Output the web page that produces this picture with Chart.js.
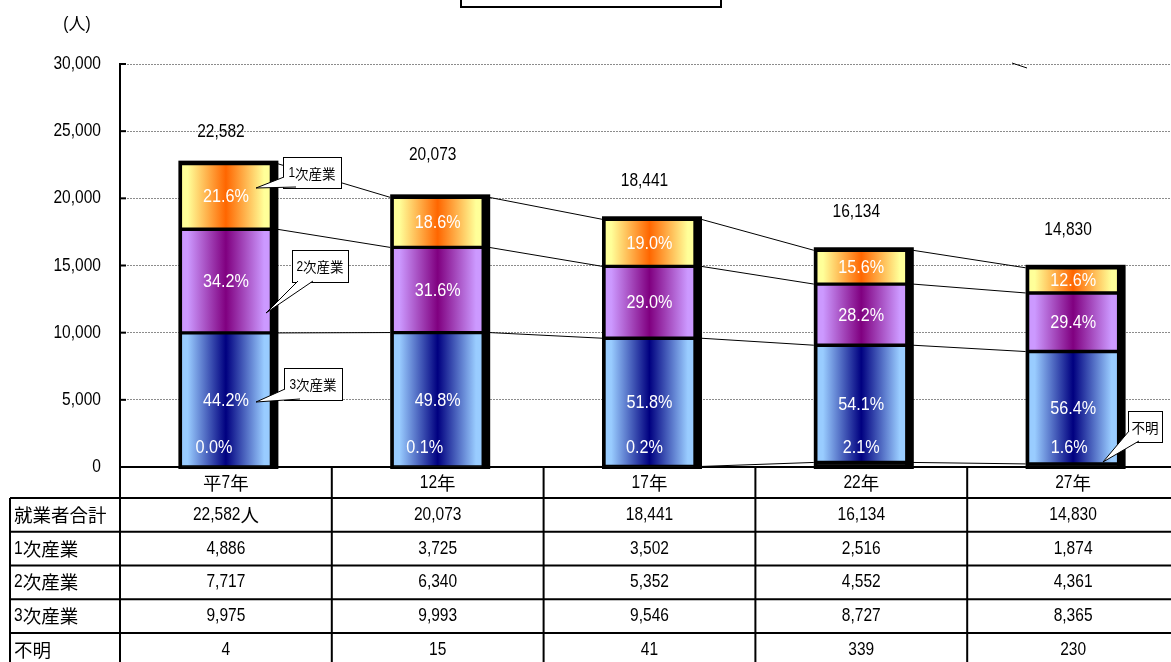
<!DOCTYPE html>
<html><head><meta charset="utf-8">
<script src="https://cdn.jsdelivr.net/npm/chart.js@4/dist/chart.umd.min.js"></script>
<style>html,body{margin:0;padding:0;overflow:hidden;background:#fff}#wrap{width:1180px;height:662px}</style>
</head><body><div id="wrap"><canvas id="c" width="1180" height="662"></canvas></div>
<script>
// ---- data ----
const categories = ['平7年','12年','17年','22年','27年'];
const primary   = [4886, 3725, 3502, 2516, 1874];   // 1次産業
const secondary = [7717, 6340, 5352, 4552, 4361];   // 2次産業
const tertiary  = [9975, 9993, 9546, 8727, 8365];   // 3次産業
const unknown   = [4, 15, 41, 339, 230];            // 不明
const totals    = [22582, 20073, 18441, 16134, 14830];
const pctPrimary   = ['21.6%','18.6%','19.0%','15.6%','12.6%'];
const pctSecondary = ['34.2%','31.6%','29.0%','28.2%','29.4%'];
const pctTertiary  = ['44.2%','49.8%','51.8%','54.1%','56.4%'];
const pctUnknown   = ['0.0%','0.1%','0.2%','2.1%','1.6%'];
const rowLabels = ['就業者合計','1次産業','2次産業','3次産業','不明'];
const yMax = 30000, yStep = 5000;

// label placement (style only)
const totalLift = [32, 42, 38, 38, 38];
const unknownShift = [-12, -13, -5, 0, -4];

// ---- text helper: latin runs condensed, CJK runs normal ----
const LAT = '"Liberation Sans", Arial, sans-serif';
const CJK = '"Noto Sans CJK JP", "Noto Sans CJK SC", sans-serif';
function runs(t){const r=[];for(const ch of t){const k=/[\u0000-\u00ff]/.test(ch)?'L':'C';if(r.length&&r[r.length-1].t===k)r[r.length-1].s+=ch;else r.push({t:k,s:ch});}return r;}
function drawText(ctx,text,x,y,align,o){
  ctx.save();ctx.textBaseline='middle';ctx.fillStyle=o.color||'#000';ctx.textAlign='left';
  const rs=runs(text);let w=0;
  for(const r of rs){ctx.font=r.t==='L'?`${o.ls}px ${LAT}`:`${o.cs}px ${CJK}`;r.w=ctx.measureText(r.s).width*(r.t==='L'?o.sx:1);w+=r.w;}
  let cx=align==='center'?x-w/2:align==='right'?x-w:x;
  for(const r of rs){ctx.font=r.t==='L'?`${o.ls}px ${LAT}`:`${o.cs}px ${CJK}`;ctx.save();ctx.translate(cx,y);if(r.t==='L')ctx.scale(o.sx,1);ctx.fillText(r.s,0,0);ctx.restore();cx+=r.w;}
  ctx.restore();
}
const AX = {ls:18.5, cs:18.5, sx:0.84};
const PCT = {ls:18, cs:18, sx:0.9, color:'#fff'};

const BAR = 91;
function grad(edge,mid){
  return (c)=>{const ch=c.chart;if(!ch.chartArea||c.dataIndex===undefined)return mid;
    const x=ch.scales.x.getPixelForValue(c.dataIndex);
    const g=ch.ctx.createLinearGradient(x-BAR/2+2,0,x+BAR/2-2,0);
    g.addColorStop(0,edge);g.addColorStop(0.06,edge);g.addColorStop(0.5,mid);g.addColorStop(0.94,edge);g.addColorStop(1,edge);return g;};
}

function callout(ctx,bx,by,bw,bh,text,tip,b1,b2){
  ctx.save();ctx.lineWidth=1;ctx.strokeStyle='#000';ctx.fillStyle='#fff';
  ctx.fillRect(bx,by,bw,bh);ctx.strokeRect(bx+0.5,by+0.5,bw,bh);
  ctx.beginPath();ctx.moveTo(b1[0],b1[1]);ctx.lineTo(tip[0],tip[1]);ctx.lineTo(b2[0],b2[1]);ctx.closePath();ctx.fill();
  ctx.beginPath();ctx.moveTo(b1[0],b1[1]);ctx.lineTo(tip[0],tip[1]);ctx.lineTo(b2[0],b2[1]);ctx.stroke();
  ctx.restore();
  drawText(ctx,text,bx+bw/2,by+bh/2+1,'center',{ls:14,cs:13.5,sx:0.85});
}

const deco = {
  id:'deco',
  beforeDatasetsDraw(chart){
    const ctx=chart.ctx, ys=chart.scales.y;
    const n=categories.length;
    // series lines
    ctx.save();ctx.strokeStyle='#000';ctx.lineWidth=1;
    for(let d=0;d<4;d++){
      const meta=chart.getDatasetMeta(d);
      for(let i=0;i<n-1;i++){
        const a=meta.data[i], b=meta.data[i+1];
        ctx.beginPath();ctx.moveTo(a.x+BAR/2+6,a.y);ctx.lineTo(b.x-BAR/2-2,b.y);ctx.stroke();
      }
    }
    ctx.restore();
    // black backing / shadow
    const top=chart.getDatasetMeta(3);
    const base=ys.getPixelForValue(0);
    ctx.save();ctx.fillStyle='#000';
    for(let i=0;i<n;i++){
      const e=top.data[i];
      ctx.fillRect(e.x-BAR/2-2,e.y-3,BAR+9,base-e.y+5);
    }
    ctx.restore();
  },
  afterDatasetsDraw(chart){
    const ctx=chart.ctx, ys=chart.scales.y;
    const base=ys.getPixelForValue(0);
    const labs=[pctUnknown,pctTertiary,pctSecondary,pctPrimary];
    for(let d=1;d<4;d++){
      chart.getDatasetMeta(d).data.forEach((e,i)=>{
        drawText(ctx,labs[d][i],e.x,(e.y+e.base)/2+1,'center',PCT);
      });
    }
    chart.getDatasetMeta(0).data.forEach((e,i)=>{
      drawText(ctx,pctUnknown[i],e.x+unknownShift[i],base-19,'center',PCT);
    });
    // totals above bars
    chart.getDatasetMeta(3).data.forEach((e,i)=>{
      drawText(ctx,totals[i].toLocaleString('en-US'),e.x-5,e.y-totalLift[i],'center',AX);
    });
    // callouts
    callout(ctx,283,157,58,31,'1次産業',[256,188],[284,177],[296,187]);
    callout(ctx,292,250,56,32,'2次産業',[266,313],[298,281],[313,281]);
    callout(ctx,284,368,58,32,'3次産業',[256,402],[285,389],[300,399]);
    callout(ctx,1128,411,34,31,'不明',[1103,462],[1129,431],[1139,441]);
  },
  afterDraw(chart){
    const ctx=chart.ctx, xs=chart.scales.x, ys=chart.scales.y, ca=chart.chartArea;
    // y tick labels + inward ticks
    ys.ticks.forEach(t=>{
      const y=ys.getPixelForValue(t.value);
      drawText(ctx,t.value.toLocaleString('en-US'),101,y,'right',AX);
      ctx.save();ctx.strokeStyle='#000';ctx.lineWidth=2;ctx.beginPath();ctx.moveTo(ca.left,y);ctx.lineTo(ca.left+6,y);ctx.stroke();ctx.restore();
    });
    // unit label
    drawText(ctx,'(人)',77,24,'center',{ls:18.5,cs:17,sx:0.84});
    // title box
    ctx.save();ctx.strokeStyle='#000';ctx.lineWidth=2;ctx.strokeRect(461,-5,260,12);
    ctx.lineWidth=1;ctx.beginPath();ctx.moveTo(1012,63);ctx.lineTo(1027,68);ctx.stroke();ctx.restore();
    // data table
    const n=categories.length, cw=(ca.right-ca.left)/n;
    const top=ca.bottom, headH=31, rowH=33.75, bottom=662;
    const rowY=[top+headH];for(let r=1;r<=5;r++)rowY.push(top+headH+r*rowH);
    ctx.save();ctx.strokeStyle='#000';ctx.lineWidth=2;
    ctx.beginPath();
    for(let r=0;r<rowY.length;r++){ctx.moveTo(10,rowY[r]);ctx.lineTo(ca.right,rowY[r]);}
    ctx.moveTo(10,rowY[0]);ctx.lineTo(10,bottom);
    for(let i=0;i<=n;i++){const x=ca.left+i*cw;ctx.moveTo(x,top);ctx.lineTo(x,bottom);}
    ctx.stroke();ctx.restore();
    const rows=[totals,primary,secondary,tertiary,unknown];
    for(let i=0;i<n;i++){
      const cx=xs.getPixelForValue(i);
      drawText(ctx,categories[i],cx,top+headH/2,'center',AX);
      rows.forEach((arr,r)=>{
        let s=arr[i].toLocaleString('en-US'); if(r===0&&i===0)s+='人';
        drawText(ctx,s,cx,rowY[r]+rowH/2,'center',AX);
      });
    }
    rowLabels.forEach((l,r)=>drawText(ctx,l,14,rowY[r]+rowH/2,'left',AX));
  }
};

new Chart(document.getElementById('c'),{
  type:'bar',
  data:{labels:categories,datasets:[
    {label:'不明',data:unknown,backgroundColor:'#1a1a1a'},
    {label:'3次産業',data:tertiary,backgroundColor:grad('#99ccff','#000080')},
    {label:'2次産業',data:secondary,backgroundColor:grad('#cc99ff','#800080')},
    {label:'1次産業',data:primary,backgroundColor:grad('#ffff99','#ff6600')}
  ].map(d=>Object.assign(d,{borderColor:'#000',borderWidth:2,borderSkipped:false,barThickness:BAR}))},
  options:{
    responsive:false,animation:false,devicePixelRatio:1,
    layout:{padding:{left:0,top:64,right:1,bottom:0}},
    plugins:{legend:{display:false},tooltip:{enabled:false},title:{display:false}},
    scales:{
      x:{stacked:true,ticks:{display:false},grid:{display:false},border:{display:true,color:'#000',width:2},
         afterFit(s){s.height=195;}},
      y:{stacked:true,min:0,max:yMax,ticks:{display:false,stepSize:yStep},
         grid:{color:'#8c8c8c',lineWidth:1,drawTicks:false},
         border:{display:true,color:'#000',width:2,dash:[2,1]},
         afterFit(s){s.width=120;}}
    }
  },
  plugins:[deco]
});
</script></body></html>
